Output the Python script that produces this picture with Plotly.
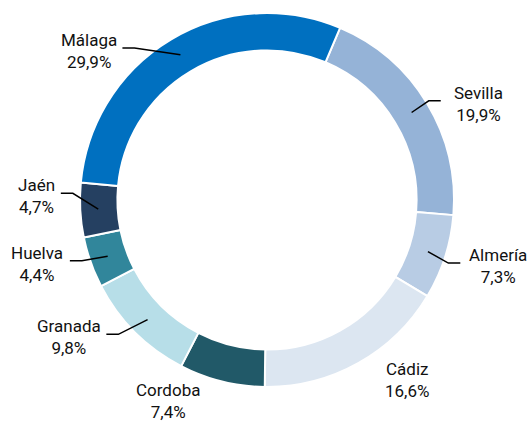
import math
import plotly.graph_objects as go

# ---- data ----
regions = ["Sevilla", "Almería", "Cádiz", "Cordoba", "Granada", "Huelva", "Jaén", "Málaga"]
shares = [19.9, 7.3, 16.6, 7.4, 9.8, 4.4, 4.7, 29.9]
colors = ["#95B3D7", "#B8CCE4", "#DCE6F1", "#215968", "#B7DEE8", "#31869B", "#254061", "#0070C0"]

# ---- label placement (style only) ----
label_nudge = [6.7, -1.8, -8.7, 12.2, 10.3, 4.0, 4.0, -19.2]   # degrees added to slice mid-angle
label_radius = [232, 240, 228, 224, 241, 239, 231, 232]        # px from centre
leader = [True, True, False, False, True, True, True, True]

W, H = 531, 423
L, R, T, B = 80, 77, 13, 36
pw, ph = W - L - R, H - T - B
cx, cy = L + pw / 2, T + ph / 2
r_out = min(pw, ph) / 2
rotation = 23
FONT = "Roboto, sans-serif"
FS = 17
char_w = 8.4


def to_paper(px, py):
    return (px - L) / pw, (H - B - py) / ph


def polar(angle_deg, r):
    a = math.radians(angle_deg)
    return cx + r * math.sin(a), cy - r * math.cos(a)


fig = go.Figure(go.Pie(
    values=shares, labels=regions, hole=0.8, sort=False,
    direction="clockwise", rotation=rotation,
    marker=dict(colors=colors, line=dict(color="white", width=2)),
    textinfo="none", hoverinfo="label+percent", showlegend=False,
    domain=dict(x=[0, 1], y=[0, 1]),
))

total = sum(shares)
cum = 0.0
annotations, shapes = [], []
for name, v, nud, lr, show in zip(regions, shares, label_nudge, label_radius, leader):
    mid = rotation + 360 * (cum + v / 2) / total
    cum += v
    pct = f"{v:.1f}".replace(".", ",") + "%"
    lx, ly = polar(mid + nud, lr)
    xp, yp = to_paper(lx, ly)
    annotations.append(dict(
        x=xp, y=yp, xref="paper", yref="paper", text=f"{name}<br>{pct}",
        showarrow=False, xanchor="center", yanchor="middle", align="center",
        font=dict(family=FONT, size=FS, color="#111111"),
    ))
    if show:
        ax, ay = polar(mid, r_out - 18)
        halfw = max(len(name), len(pct)) * char_w / 2
        line_y = ly - 3
        if lx < cx:
            end_x = lx + halfw + 8
            elb_x = end_x + 12
        else:
            end_x = lx - halfw - 8
            elb_x = end_x - 12
        p0 = to_paper(ax, ay)
        p1 = to_paper(elb_x, line_y)
        p2 = to_paper(end_x, line_y)
        shapes.append(dict(
            type="path", xref="paper", yref="paper",
            path=f"M {p0[0]},{p0[1]} L {p1[0]},{p1[1]} L {p2[0]},{p2[1]}",
            line=dict(color="black", width=1.5),
        ))

fig.update_layout(
    width=W, height=H,
    margin=dict(l=L, r=R, t=T, b=B, autoexpand=False),
    paper_bgcolor="white", plot_bgcolor="white",
    annotations=annotations, shapes=shapes,
    font=dict(family=FONT),
)
fig.write_html(
    "out.html",
    config={"displayModeBar": False},
    post_script="document.body.style.margin='0';document.body.style.overflow='hidden';",
)
